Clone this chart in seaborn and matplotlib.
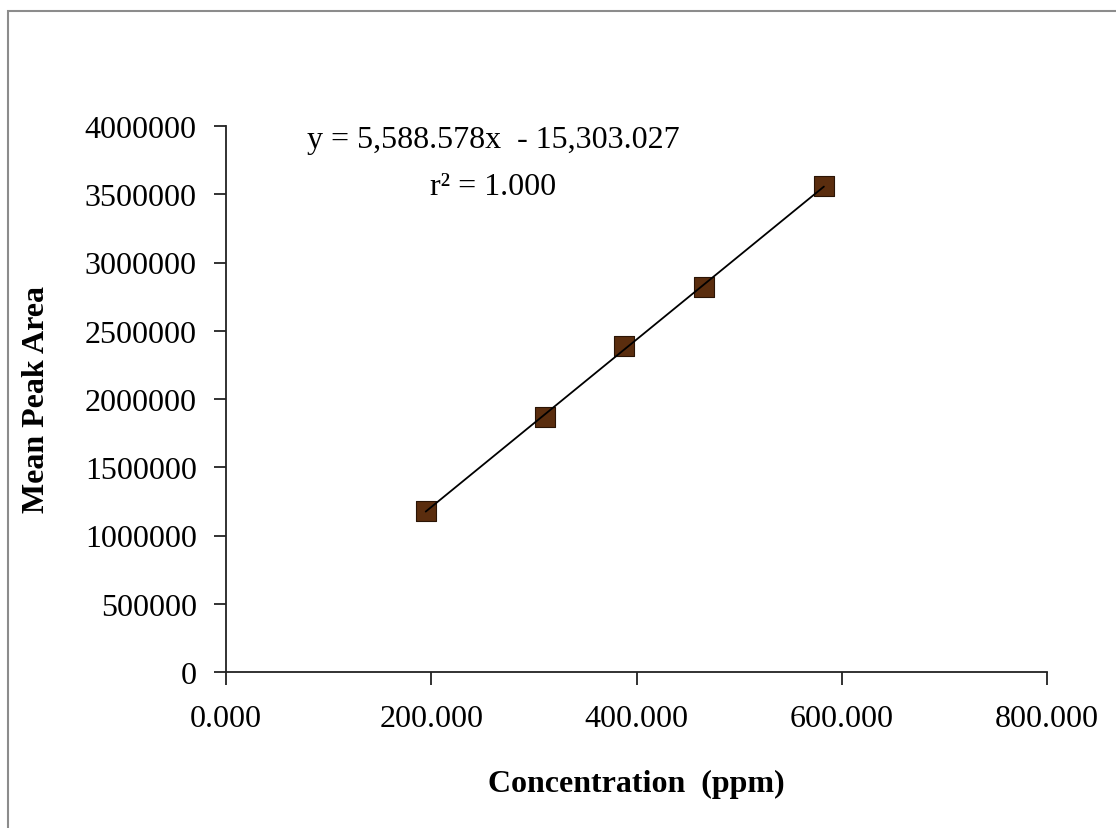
import matplotlib
matplotlib.use('Agg')
import numpy as np
import pandas as pd
import matplotlib.pyplot as plt
import seaborn as sns
from matplotlib.patches import Rectangle
from matplotlib.ticker import FormatStrFormatter

# Calibration data
concentration = [194.6, 310.4, 388.3, 465.6, 582.6]
mean_peak_area = [1181700, 1866000, 2390500, 2818000, 3562600]
x_ticks = [0, 200, 400, 600, 800]
y_ticks = [0, 500000, 1000000, 1500000, 2000000, 2500000, 3000000, 3500000, 4000000]
equation_text = 'y = 5,588.578x  - 15,303.027'
r2_text = 'r² = 1.000'

df = pd.DataFrame({'conc': concentration, 'area': mean_peak_area})

sns.set_style('white')
plt.rcParams['font.family'] = ['Liberation Serif', 'DejaVu Serif']
plt.rcParams['text.color'] = 'black'
plt.rcParams['axes.labelcolor'] = 'black'
plt.rcParams['xtick.color'] = 'black'
plt.rcParams['ytick.color'] = 'black'

fig = plt.figure(figsize=(11.16, 8.29), dpi=100)
ax = fig.add_axes([226/1116, 1 - 673/829, 821/1116, 546/829])

# gray frame around the chart area
fig.patches.append(Rectangle((8/1116, -0.1), 1.2, 1 - 12/829 + 0.1, transform=fig.transFigure,
                             fill=False, edgecolor='#8c8c8c', linewidth=1.5))

sns.scatterplot(data=df, x='conc', y='area', marker='s', s=210, color='#5a2d0e',
                edgecolor='#2a1405', linewidth=0.8, ax=ax, zorder=2)
sns.regplot(data=df, x='conc', y='area', scatter=False, ci=None, ax=ax,
            line_kws={'color': 'black', 'linewidth': 1.3, 'zorder': 3})

ax.set_xlim(0, 800)
ax.set_ylim(0, 4000000)
ax.set_xticks(x_ticks)
ax.set_yticks(y_ticks)
ax.xaxis.set_major_formatter(FormatStrFormatter('%.3f'))
ax.yaxis.set_major_formatter(FormatStrFormatter('%d'))

for side in ['top', 'right']:
    ax.spines[side].set_visible(False)
for side in ['left', 'bottom']:
    ax.spines[side].set_color('#222222')
    ax.spines[side].set_linewidth(1.3)

ax.tick_params(axis='both', direction='out', length=9, width=1.3, color='#222222',
               labelsize=23, labelcolor='black', left=True, bottom=True)
ax.tick_params(axis='y', pad=12)
ax.tick_params(axis='x', pad=14)

ax.set_xlabel('Concentration  (ppm)', fontsize=23, fontweight='bold', labelpad=26)
ax.set_ylabel('Mean Peak Area', fontsize=23, fontweight='bold', labelpad=24)

ax.text(0.325, 0.975, equation_text, transform=ax.transAxes, fontsize=23,
        ha='center', va='center')
ax.text(0.325, 0.89, r2_text, transform=ax.transAxes, fontsize=23,
        ha='center', va='center')

fig.savefig('out.png', dpi=100)
